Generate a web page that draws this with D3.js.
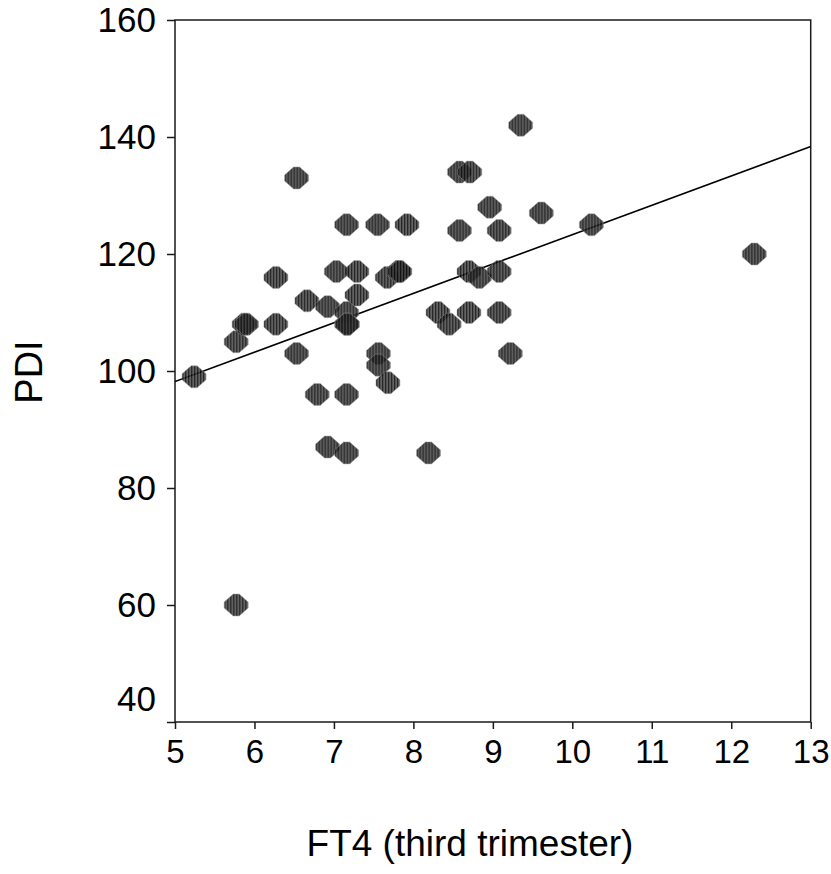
<!DOCTYPE html>
<html>
<head>
<meta charset="utf-8">
<script src="https://cdn.jsdelivr.net/npm/d3@7"></script>
<style>
  body { margin: 0; background: #fff; }
  text { font-family: 'Liberation Sans', Arial, sans-serif; fill: #000; }
</style>
</head>
<body>
<svg id="chart"></svg>
<script>
// FT4 (third trimester) vs PDI
const ft4 = [5.24, 5.77, 5.87, 5.90, 5.77, 6.27, 6.27, 6.53, 6.53, 6.66,
  6.79, 6.92, 6.92, 7.03, 7.16, 7.16, 7.16, 7.17, 7.16, 7.16,
  7.29, 7.29, 7.55, 7.56, 7.56, 7.68, 7.67, 7.81, 7.83, 7.92,
  8.19, 8.31, 8.45, 8.58, 8.71, 8.58, 8.70, 8.83, 8.70, 8.96,
  9.08, 9.08, 9.08, 9.22, 9.35, 9.61, 10.24, 12.29];
const pdi = [99, 105, 108, 108, 60, 116, 108, 103, 133, 112,
  96, 111, 87, 117, 125, 110, 108, 108, 96, 86,
  117, 113, 125, 103, 101, 98, 116, 117, 117, 125,
  86, 110, 108, 134, 134, 124, 117, 116, 110, 128,
  124, 117, 110, 103, 142, 127, 125, 120];

const xTicks = [5, 6, 7, 8, 9, 10, 11, 12, 13];
const yTicks = [40, 60, 80, 100, 120, 140, 160];

// fitted line: PDI = intercept + slope * FT4
const fitIntercept = 73.1;
const fitSlope = 5.02;

const width = 831;
const height = 874;
const margin = { top: 20, right: 20.3, bottom: 152, left: 175 };
const innerW = width - margin.left - margin.right;
const innerH = height - margin.top - margin.bottom;

const svg = d3.select('#chart').attr('width', width).attr('height', height);

const defs = svg.append('defs');
const hatch = defs.append('pattern')
  .attr('id', 'hatch')
  .attr('patternUnits', 'userSpaceOnUse')
  .attr('width', 3)
  .attr('height', 3);
hatch.append('rect').attr('width', 3).attr('height', 3).attr('fill', '#4a4a4a');
hatch.append('rect').attr('width', 1.3).attr('height', 3).attr('fill', '#000');

defs.append('clipPath').attr('id', 'plotClip')
  .append('rect').attr('width', innerW).attr('height', innerH);

const g = svg.append('g').attr('transform', `translate(${margin.left}, ${margin.top})`);

const x = d3.scaleLinear().domain([5, 13]).range([0, innerW]);
const y = d3.scaleLinear().domain([40, 160]).range([innerH, 0]);

// frame
g.append('rect')
  .attr('width', innerW)
  .attr('height', innerH)
  .attr('fill', 'none')
  .attr('stroke', '#1a1a1a')
  .attr('stroke-width', 1.5);

const xAxis = d3.axisBottom(x).tickValues(xTicks).tickSize(7).tickSizeOuter(0).tickPadding(8);
const gx = g.append('g')
  .attr('transform', `translate(0, ${innerH})`)
  .call(xAxis);
gx.select('.domain').remove();
gx.selectAll('line').attr('stroke', '#1a1a1a').attr('stroke-width', 1.5);
gx.selectAll('text').attr('font-size', '33px').attr('dy', '0.8em');

const yAxis = d3.axisLeft(y).tickValues(yTicks).tickSize(8).tickSizeOuter(0).tickPadding(11);
const gy = g.append('g').call(yAxis);
gy.select('.domain').remove();
gy.selectAll('line').attr('stroke', '#1a1a1a').attr('stroke-width', 1.5);
gy.selectAll('text')
  .attr('font-size', '35px')
  .attr('dy', (d) => (d === 40 ? '-0.33em' : '0.34em'));

// regression line
g.append('line')
  .attr('clip-path', 'url(#plotClip)')
  .attr('x1', x(5))
  .attr('y1', y(fitIntercept + fitSlope * 5))
  .attr('x2', x(13))
  .attr('y2', y(fitIntercept + fitSlope * 13))
  .attr('stroke', '#000')
  .attr('stroke-width', 1.6);

// markers: rounded diamonds
const marker = 'M-3,-11L3,-11L12,-3L12,3L3,11L-3,11L-12,3L-12,-3Z';
g.append('g')
  .selectAll('path')
  .data(d3.range(ft4.length))
  .enter()
  .append('path')
  .attr('d', marker)
  .attr('transform', (i) => `translate(${x(ft4[i])}, ${y(pdi[i])})`)
  .attr('fill', 'url(#hatch)')
  .attr('stroke', '#999')
  .attr('stroke-width', 0.5)
  .attr('opacity', 0.85);

// axis titles
svg.append('text')
  .attr('x', 470)
  .attr('y', 856)
  .attr('text-anchor', 'middle')
  .attr('font-size', '37px')
  .text('FT4 (third trimester)');

svg.append('text')
  .attr('transform', `translate(42, 372) rotate(-90)`)
  .attr('text-anchor', 'middle')
  .attr('font-size', '38px')
  .text('PDI');
</script>
</body>
</html>
